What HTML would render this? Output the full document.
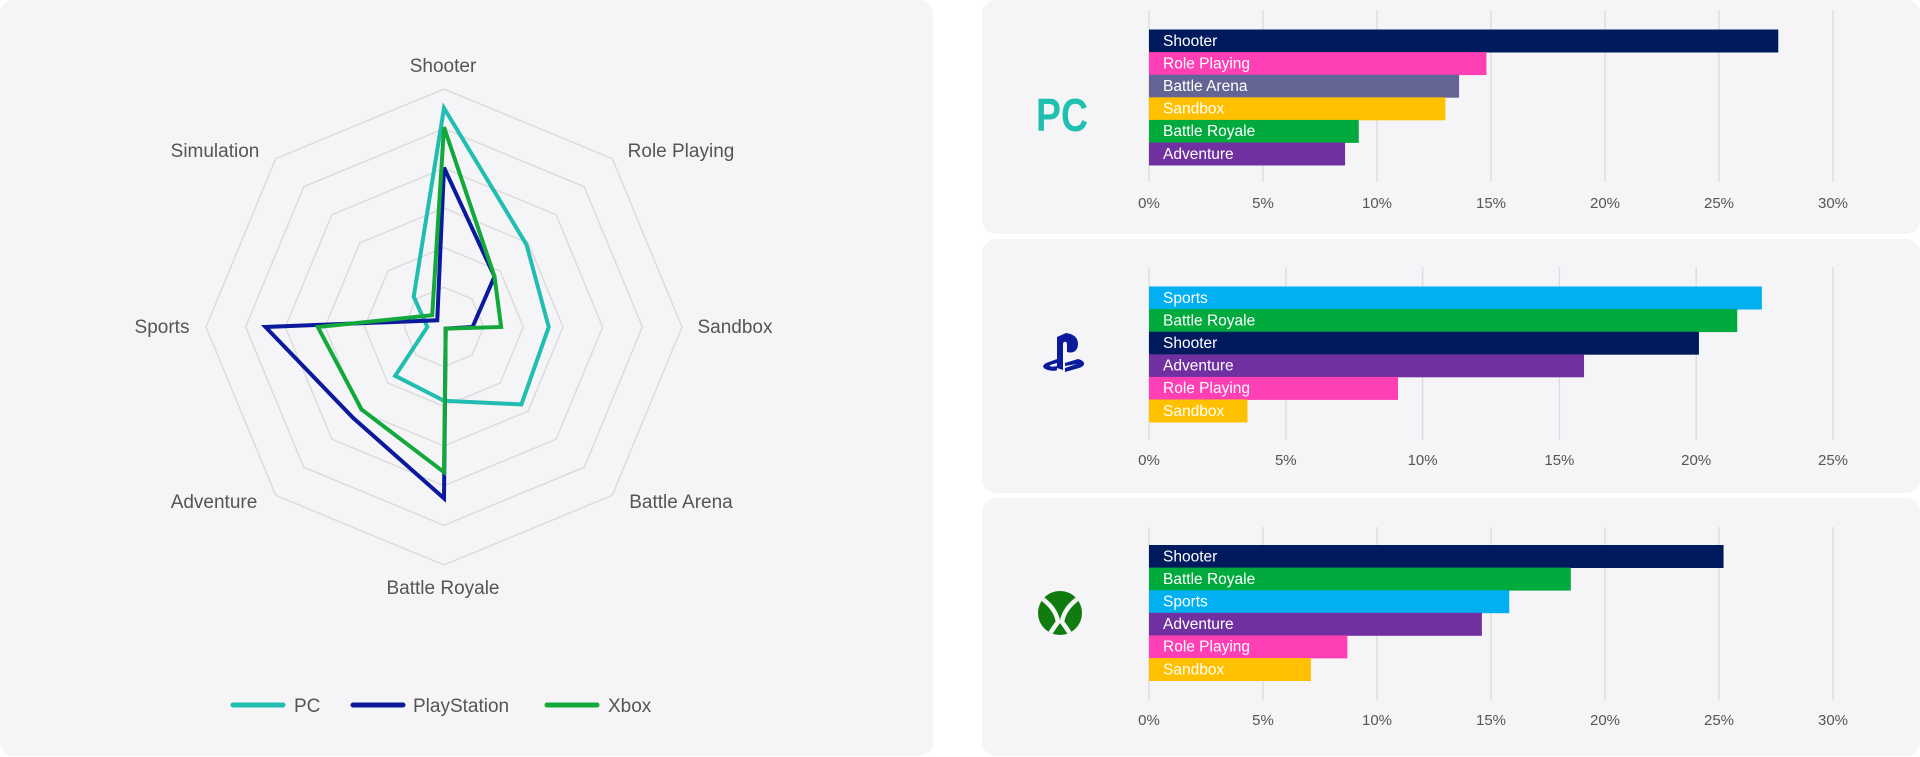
<!DOCTYPE html>
<html><head><meta charset="utf-8"><style>
html,body{margin:0;padding:0;background:#fff;width:1920px;height:757px;overflow:hidden;font-family:"Liberation Sans",sans-serif;}
svg{display:block}
</style></head><body>
<svg id="root" width="1920" height="757" xmlns="http://www.w3.org/2000/svg">
<defs><clipPath id="xclip"><circle cx="1060" cy="613" r="22"/></clipPath></defs>
<rect x="0" y="0" width="933" height="756" rx="14" fill="#f5f5f7"/>
<rect x="982" y="0" width="938" height="234" rx="14" fill="#f5f5f7"/>
<rect x="982" y="239" width="938" height="254" rx="14" fill="#f5f5f7"/>
<rect x="982" y="498" width="938" height="258" rx="14" fill="#f5f5f7"/>
<g id="radar"></g>
<g id="bars"></g>
<text x="0" y="0" text-anchor="middle" font-size="44" font-weight="bold" font-family="'Liberation Sans Narrow','Liberation Sans',sans-serif" fill="#20c0b0" transform="translate(1062,131) scale(0.85,1.05)">PC</text>
<g fill="#0a1a9a">
<path d="M1057 337 L1057 368 L1063 370 L1063 344 C1063 341 1067 341 1067 344 L1067 352 C1074 354 1078 350 1078 344 C1078 337 1073 334 1066 333 Z"/>
<path d="M1049 362 C1042 364 1041 368 1048 370 C1052 371 1056 371 1057 370 L1057 366 C1053 367 1049 367 1050 365 L1057 363 L1057 359 Z"/>
<path d="M1065 363 L1078 359 C1086 361 1086 366 1079 368 L1065 372 L1065 368 L1077 364 L1065 366 Z"/>
</g>
<g>
<circle cx="1060" cy="613" r="22" fill="#107c10"/>
<g clip-path="url(#xclip)" fill="none" stroke="#f5f5f7" stroke-width="4.5">
<path d="M1040 597 Q1056 608 1058 622 Q1052 630 1046 640"/>
<path d="M1080 597 Q1064 608 1062 622 Q1068 630 1074 640"/>
</g>
<path d="M1050 595 Q1060 600 1070 595 Q1065 592 1060 592 Q1055 592 1050 595 Z" fill="#f5f5f7" opacity="0"/>
</g>
</svg>
<script>
const NS='http://www.w3.org/2000/svg';
function mk(tag,attrs,parent){const e=document.createElementNS(NS,tag);for(const k in attrs)e.setAttribute(k,attrs[k]);parent.appendChild(e);return e;}

// ---------- Radar data ----------
const radarAxes=['Shooter','Role Playing','Sandbox','Battle Arena','Battle Royale','Adventure','Sports','Simulation'];
const radarPC=[0.92,0.49,0.44,0.46,0.31,0.29,0.07,0.18];
const radarPS=[0.67,0.30,0.12,0.01,0.72,0.54,0.75,0.04];
const radarXbox=[0.84,0.30,0.24,0.01,0.61,0.49,0.53,0.07];
const radarSeriesNames=['PC','PlayStation','Xbox'];

const cx=444,cy=327,R=238,rings=6;
const radar=document.getElementById('radar');
function pt(i,f){const a=-Math.PI/2+i*Math.PI/4;return [cx+Math.cos(a)*R*f,cy+Math.sin(a)*R*f];}
for(let r=1;r<=rings;r++){
  const pts=radarAxes.map((_,i)=>pt(i,r/rings).join(',')).join(' ');
  const g=mk('polygon',{points:pts,fill:'none',stroke:'#dcdcdf','stroke-width':1.5},radar);
  
  
}
const labelPos=[[443,72],[681,157],[735,333],[681,508],[443,594],[214,508],[162,333],[215,157]];
radarAxes.forEach((n,i)=>{
  const t=mk('text',{x:labelPos[i][0],y:labelPos[i][1],'text-anchor':'middle','font-size':19,fill:'#555'},radar);
  t.textContent=n;
  
  
});
const radarColors=['#20bdb0','#0b1a9c','#12a83a'];
[radarPC,radarPS,radarXbox].forEach((s,k)=>{
  const pts=s.map((v,i)=>pt(i,v).join(',')).join(' ');
  const p=mk('polygon',{points:pts,fill:'none',stroke:radarColors[k],'stroke-width':4,'stroke-linejoin':'miter'},radar);
  
  
});
const legX=[[233,294],[353,413],[547,608]];
radarSeriesNames.forEach((n,k)=>{
  const l=mk('line',{x1:legX[k][0],x2:legX[k][0]+50,y1:705,y2:705,stroke:radarColors[k],'stroke-width':5,'stroke-linecap':'round'},radar);
  
  
  const t=mk('text',{x:legX[k][1],y:712,'font-size':19,fill:'#555'},radar);
  t.textContent=n;
  
  
});

// ---------- Bar data ----------
const pcCategories=['Shooter','Role Playing','Battle Arena','Sandbox','Battle Royale','Adventure'];
const pcValues=[27.6,14.8,13.6,13.0,9.2,8.6];
const psCategories=['Sports','Battle Royale','Shooter','Adventure','Role Playing','Sandbox'];
const psValues=[22.4,21.5,20.1,15.9,9.1,3.6];
const xboxCategories=['Shooter','Battle Royale','Sports','Adventure','Role Playing','Sandbox'];
const xboxValues=[25.2,18.5,15.8,14.6,8.7,7.1];
const ticks30=[0,5,10,15,20,25,30];
const ticks25=[0,5,10,15,20,25];

const catColor={'Shooter':'#001a5e','Role Playing':'#ff3fb4','Battle Arena':'#656595','Sandbox':'#ffc000','Battle Royale':'#00aa3c','Adventure':'#7030a0','Sports':'#00b0f0'};
const bars=document.getElementById('bars');
function barChart(name,cats,vals,ticks,cfg){
  const x0=1149,x1=1833,max=ticks[ticks.length-1];
  const sx=v=>x0+(v/max)*(x1-x0);
  ticks.forEach(t=>{
    const g=mk('line',{x1:sx(t),x2:sx(t),y1:cfg.gTop,y2:cfg.gBot,stroke:'#dedee2','stroke-width':1.5},bars);
    
    
    const tx=mk('text',{x:sx(t),y:cfg.tickY,'text-anchor':'middle','font-size':15,fill:'#555'},bars);
    tx.textContent=t+'%';
    
    
  });
  const bh=22.6;
  cats.forEach((c,i)=>{
    const y=cfg.top+i*bh;
    const r=mk('rect',{x:x0,y:y,width:sx(vals[i])-x0,height:bh+0.4,fill:catColor[c]},bars);
    
    
    const t=mk('text',{x:x0+14,y:y+bh/2+5,'font-size':15.5,fill:'#fff'},bars);
    t.textContent=c;
    
    
  });
}
barChart('pc',pcCategories,pcValues,ticks30,{top:29.5,gTop:10,gBot:182,tickY:208});
barChart('playstation',psCategories,psValues,ticks25,{top:286.5,gTop:267,gBot:440,tickY:465});
barChart('xbox',xboxCategories,xboxValues,ticks30,{top:545,gTop:527,gBot:700,tickY:725});
</script>
</body></html>
